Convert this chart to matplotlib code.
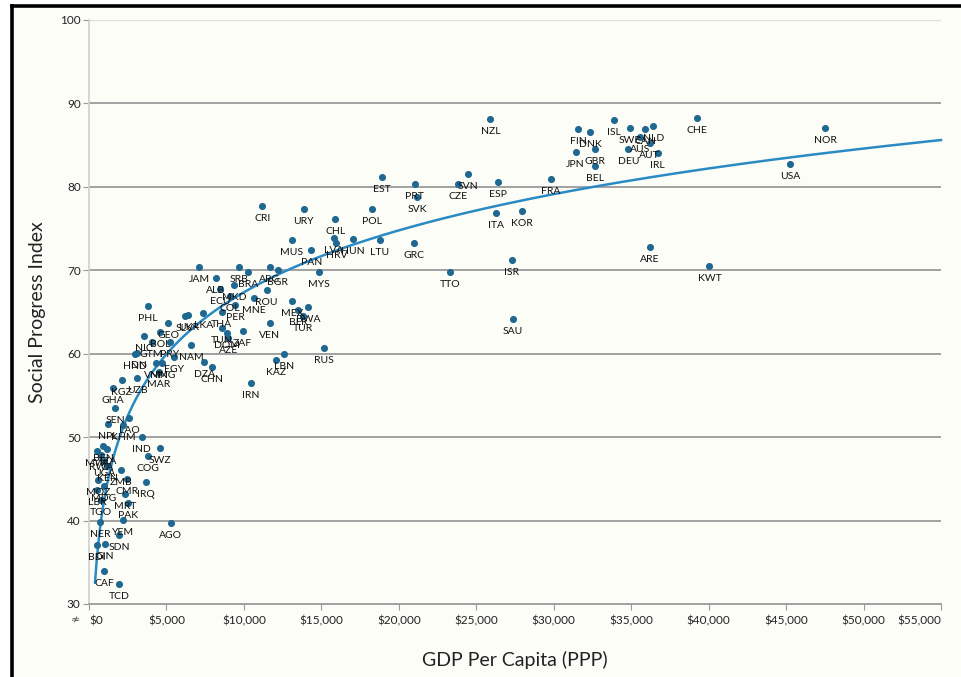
import numpy as np
import matplotlib
matplotlib.use("Agg")
import matplotlib.pyplot as plt
from matplotlib.patches import Rectangle
from matplotlib.lines import Line2D

plt.rcParams['font.family'] = ['Lato', 'DejaVu Sans']

codes = ["NOR","USA","KWT","CHE","ARE","IRL","NLD","AUT","CAN","AUS","SWE","DEU","ISL","GBR","BEL",
         "DNK","FIN","JPN","FRA","KOR","SAU","ISR","ESP","ITA","NZL","SVN","CZE","TTO","SVK","PRT",
         "GRC","EST","LTU","POL","HUN","HRV","LVA","CHL","RUS","MYS","PAN","BWA","URY","TUR","BLR",
         "MUS","MEX","LBN","BGR","KAZ","ARG","VEN","ROU","CRI","MNE","IRN","BRA","ZAF","SRB","PER",
         "MKD","COL","AZE","DOM","TUN","THA","ECU","ALB","CHN","DZA","LKA","JAM","NAM","UKR","SLV",
         "EGY","AGO","PRY","GEO","MNG","BOL","SWZ","MAR","VNM","GTM","PHL","COG","IRQ","NIC","IND",
         "UZB","IDN","HND","LAO","PAK","CMR","MRT","YEM","KHM","KGZ","ZMB","SDN","TCD","SEN","GHA",
         "NPL","KEN","TZA","GIN","UGA","MDG","CAF","BEN","RWA","TGO","NER","MOZ","MWI","LBR","BDI"]
gdp = [47515,45280,40055,39235,36205,36720,36423,36185,35907,35585,34940,34811,33863,32637,32637,
       32360,31585,31410,29800,27970,27350,27285,26380,26300,25910,24490,23845,23285,21180,21030,
       20960,18920,18770,18270,17010,15970,15820,15890,15180,14850,14360,14145,13870,13820,13500,
       13095,13095,12600,12170,12060,11675,11675,11460,11200,10640,10430,10275,9915,9695,9420,
       9350,9095,8985,8880,8560,8560,8450,8190,7950,7435,7370,7115,6580,6405,6190,
       5480,5270,5225,5115,4730,4580,4580,4515,4320,4045,3825,3825,3677,3548,3400,
       3115,3096,2967,2600,2515,2451,2322,2212,2193,2108,2064,1954,1954,1677,1548,
       1225,1160,1160,1032,967,967,967,903,774,774,710,580,516,516,497]
spi = [87.04,82.76,70.56,88.24,72.81,84.04,87.31,85.24,86.92,86.03,87.04,84.52,88.03,84.52,82.50,
       86.56,86.92,84.16,81.00,77.12,64.17,71.21,80.64,76.85,88.15,81.56,80.36,69.81,78.77,80.36,
       73.33,81.16,73.61,77.36,73.73,73.33,73.85,76.16,60.73,69.84,72.41,65.58,77.36,64.53,65.25,
       73.61,66.33,59.94,70.05,59.26,70.45,63.66,67.65,77.65,66.65,56.53,69.84,62.77,70.45,65.85,
       68.25,66.93,61.86,62.46,63.06,64.98,67.80,69.06,58.45,58.98,64.86,70.34,61.06,64.65,64.57,
       59.66,39.68,61.45,63.73,58.86,62.65,48.67,57.78,58.86,61.45,65.77,47.75,44.66,62.13,50.07,
       57.13,60.10,59.98,52.27,42.11,44.99,43.19,40.07,51.46,56.86,46.07,38.27,32.40,53.46,55.90,
       51.58,46.55,48.60,37.20,47.15,44.15,33.96,48.95,47.87,42.47,39.87,44.87,48.35,43.67,37.07]

x_ticks = [0,5000,10000,15000,20000,25000,30000,35000,40000,45000,50000,55000]
x_tick_labels = ["$0","$5,000","$10,000","$15,000","$20,000","$25,000","$30,000",
                 "$35,000","$40,000","$45,000","$50,000","$55,000"]
y_ticks = [30,40,50,60,70,80,90,100]

W, H = 961, 677
fig = plt.figure(figsize=(W/100, H/100), dpi=100, facecolor='white')

# off-white panel and its black border (left & top visible)
fig.patches.append(Rectangle((12/W, 0), 1 - 12/W, (H-6)/H, transform=fig.transFigure,
                             facecolor='#fdfdf8', edgecolor='none', zorder=-10))
fig.lines.append(Line2D([12/W, 12/W], [0, (H-6)/H], transform=fig.transFigure,
                        color='black', lw=2.6, zorder=-5))
fig.lines.append(Line2D([12/W, 1], [(H-6)/H, (H-6)/H], transform=fig.transFigure,
                        color='black', lw=2.6, zorder=-5))

ax = fig.add_axes([89/W, (H-604)/H, 852/W, 584/H])
ax.set_zorder(2)
ax.set_facecolor('none')
ax.set_xlim(0, 55000)
ax.set_ylim(30, 100)

for yv in y_ticks[1:-1]:
    ax.axhline(yv, color='#9a9a9a', lw=1.3, zorder=1)
ax.axhline(100, color='#dcdcdc', lw=1.6, zorder=1)

for s in ['top', 'right']:
    ax.spines[s].set_visible(False)
ax.spines['left'].set_color('#cfcfcf')
ax.spines['left'].set_linewidth(1.2)
ax.spines['bottom'].set_color('#9a9a9a')
ax.spines['bottom'].set_linewidth(1.3)

ax.set_xticks(x_ticks)
xtl = ax.set_xticklabels(x_tick_labels, fontsize=8.5, color='#222222')
xtl[0].set_ha('left')
xtl[-1].set_ha('right')
ax.set_yticks(y_ticks)
ax.set_yticklabels([str(v) for v in y_ticks], fontsize=8.5, color='#222222')
ax.tick_params(axis='x', length=4, color='#9a9a9a', pad=4)
ax.tick_params(axis='y', length=4, color='#9a9a9a', pad=2)

# logarithmic trend line fitted to the data
gx = np.array(gdp, dtype=float)
sy = np.array(spi, dtype=float)
coef = np.polyfit(np.log(gx), sy, 1)
xs = np.linspace(gx.min() * 0.78, 55000, 500)
ax.plot(xs, np.polyval(coef, np.log(xs)), color='#2a8ac4', lw=1.8, zorder=3, clip_on=False)

ax.scatter(gx, sy, s=26, color='#1f6892', zorder=4, linewidths=0)

for c, xv, yv in zip(codes, gdp, spi):
    ax.annotate(c, (xv, yv), xytext=(0, -9), textcoords='offset points',
                ha='center', va='center', fontsize=7.5, color='#111111', zorder=5)

ax.set_xlabel("GDP Per Capita (PPP)", fontsize=14, color='#222222', labelpad=18)
ax.set_ylabel("Social Progress Index", fontsize=14, color='#222222', labelpad=10)

# axis break symbol
fig.text(75/W, 1 - 620/H, "\u2249", fontsize=8, color='#555555', ha='center', va='center',
         family=['DejaVu Sans'])

fig.savefig("out.png", dpi=100, facecolor='white')
